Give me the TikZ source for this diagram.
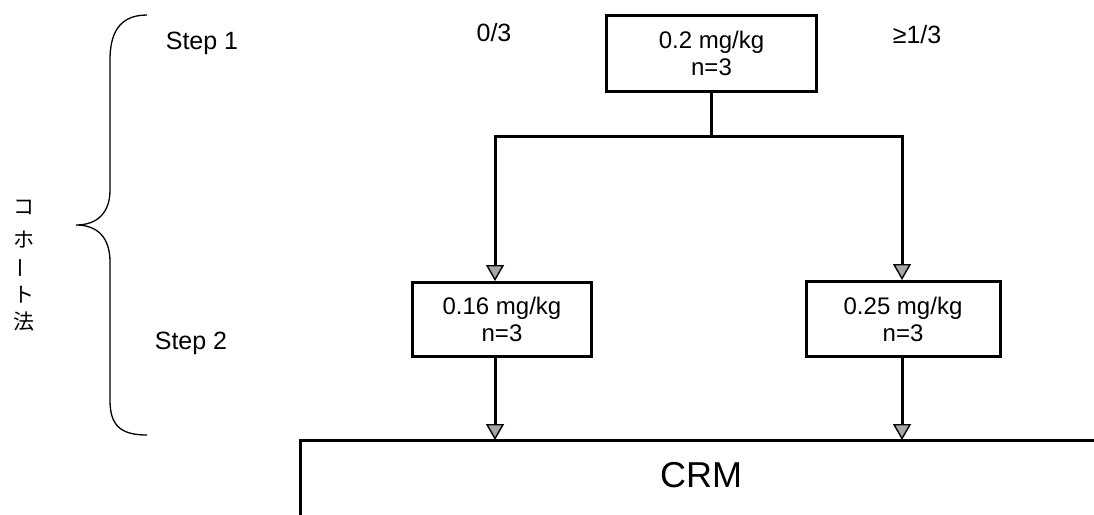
\documentclass[tikz,border=0pt]{standalone}
\usepackage{fontspec}
\setmainfont{Liberation Sans}
\newfontfamily\cjk{Noto Sans CJK JP}
\usetikzlibrary{arrows.meta, calc}

\tikzset{
    dosebox/.style={draw=black, line width=3pt, align=center, inner sep=0pt,
        font=\fontsize{24}{27}\selectfont},
    flow/.style={line width=3pt, shorten >=10pt,
        postaction={draw, line width=1.4pt, shorten >=0pt,
            -{Triangle[width=18pt, length=16pt, open, fill=gray!70]}}},
    steptext/.style={font=\fontsize{25}{27}\selectfont},
}

\begin{document}
\begin{tikzpicture}[x=1pt, y=-1pt]

    \useasboundingbox (0,0) rectangle (1094,514);

    % 1. Dose boxes
    \node[dosebox, minimum width=210pt, minimum height=76pt] (dose1) at (711.5,53)
        {0.2 mg/kg\\n=3};
    \node[dosebox, minimum width=179pt, minimum height=74pt] (dose2a) at (502,319.5)
        {0.16 mg/kg\\n=3};
    \node[dosebox, minimum width=194pt, minimum height=75pt] (dose2b) at (903,319)
        {0.25 mg/kg\\n=3};

    % 2. Branch points and the CRM corner
    \coordinate (brL) at (495,136);
    \coordinate (brR) at (902,136);
    \coordinate (crmL) at (300,440);
    \coordinate (crmR) at (1094,440);
    \coordinate (crmB) at (300,514);

    % Draw the split below step 1
    \draw[line width=3pt] (dose1.south) -- (dose1.south |- brL);
    \draw[line width=3pt, line cap=rect] (brL) -- (brR);
    \draw[flow] (brL) -- (brL |- dose2a.north);
    \draw[flow] (brR) -- (brR |- dose2b.north);

    % 3. Into the CRM part
    \draw[line width=3pt, line cap=rect] (crmB) -- (crmL) -- (crmR);
    \draw[flow] (brL |- dose2a.south) -- (brL |- crmL);
    \draw[flow] (brR |- dose2b.south) -- (brR |- crmL);
    \node[font=\fontsize{36}{40}\selectfont] (crm) at (701,475) {CRM};

    % 4. Step labels and outcomes
    \node[steptext] (step1) at (202,43) {Step 1};
    \node[steptext] (step2) at (191,343) {Step 2};
    \node[steptext] (none) at (494,33) {0/3};
    \node[steptext] (some) at (917,35) {≥1/3};

    % 5. The brace
    \draw[line width=1.3pt]
        (147,15) .. controls (118,15) and (110,35) .. (110,60)
        -- (110,190) .. controls (110,212) and (98,225) .. (76,225)
        .. controls (98,225) and (110,238) .. (110,262)
        -- (110,400) .. controls (110,425) and (120,435) .. (147,435);

    % 6. Vertical Japanese label
    \foreach \ch/\yy/\rot [count=\i] in {コ/207/0, ホ/240/0, ー/268/90, ト/295/0, 法/322/0} {
        \node[font=\cjk\fontsize{21}{21}\selectfont, rotate=\rot, inner sep=0pt]
            (jp\i) at (24,\yy) {\ch};
    }

\end{tikzpicture}
\end{document}
